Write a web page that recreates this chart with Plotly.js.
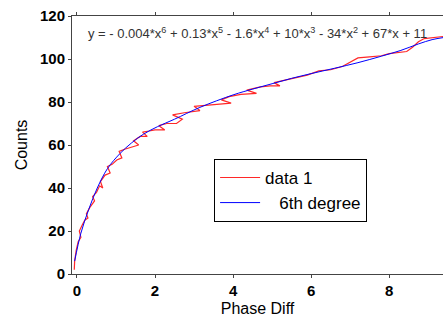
<!DOCTYPE html>
<html>
<head>
<meta charset="utf-8">
<script src="https://cdn.plot.ly/plotly-3.0.1.min.js"></script>
<style>html,body{margin:0;padding:0;background:#fff;}#chart{width:443px;height:325px;}</style>
</head>
<body>
<div id="chart"></div>
<script>
const dataX = [-0.07,-0.06,-0.02,0.03,0.1,0.06,0.14,0.2,0.28,0.24,0.33,0.45,0.4,0.5,0.58,0.66,0.6,0.72,0.85,0.78,0.9,1.02,1.15,1.08,1.22,1.38,1.58,1.45,1.62,1.8,1.68,1.85,2.0,2.25,2.1,2.3,2.55,2.7,2.45,2.75,2.95,3.15,3.0,3.3,3.6,3.95,3.7,3.9,4.2,4.45,4.6,4.35,4.7,4.95,5.2,5.05,5.3,5.6,5.9,6.2,6.5,6.8,7.0,7.2,7.5,7.8,8.0,8.25,8.45,8.6,8.75,8.9,9.1,9.3,9.4];
const dataY = [2,6,11,15,17,20,23,25,26,28,31,34,36,38,41,40,43,46,47,50,51,53,54,57,58,59,60,62,64,64,66,66.5,67,67,69,70,70,72,74,75,75.5,76,78,78.5,79,79.5,81,82.5,83.5,84,84,85.5,87,87.5,87.5,89,90,91,92.5,94.5,95,96.5,98.5,100.5,101,101.5,102.5,103,103.5,105.5,108,109.5,110,110.5,110.5];
// 6th degree fit curve
const fitX = [-0.06,0.1,0.3,0.52,0.78,1.1,1.4,1.7,2.06,2.5,3.15,4.0,4.5,5.0,5.5,6.0,6.6,7.2,7.8,8.3,8.75,9.1,9.4];
const fitY = [6,19,30,40,49,56,61,65,68.5,72,77.5,83.3,86,88.5,91,93.2,95.7,98.3,101.3,104,107,109,110];
const xTicks = [0,2,4,6,8];
const yTicks = [0,20,40,60,80,100,120];
const seriesNames = ['data 1', '\u00a0\u00a0\u00a06th degree'];
const equation = 'y = - 0.004*x<sup>6</sup> + 0.13*x<sup>5</sup> - 1.6*x<sup>4</sup> + 10*x<sup>3</sup> - 34*x<sup>2</sup> + 67*x + 11';

const font = 'Arial, "Liberation Sans", sans-serif';
const traces = [
  {x: dataX, y: dataY, mode: 'lines', name: seriesNames[0], line: {color: 'rgb(255,40,40)', width: 1.2}},
  {x: fitX, y: fitY, mode: 'lines', name: seriesNames[1], line: {color: 'rgb(0,0,255)', width: 1, shape: 'spline'}}
];
const axisCommon = {showgrid: false, zeroline: false, showline: true, linecolor: '#444', linewidth: 1,
  ticks: 'outside', ticklen: 3, tickcolor: '#444', tickfont: {family: font, size: 15, color: '#000', weight: 'bold'}};
const layout = {
  width: 443, height: 325,
  margin: {l: 72, r: 0, t: 16, b: 51},
  paper_bgcolor: '#fff', plot_bgcolor: '#fff',
  showlegend: true,
  legend: {x: 0.383, y: 0.446, xanchor: 'left', yanchor: 'top', bgcolor: '#fff', bordercolor: '#000', borderwidth: 1,
    itemwidth: 40, font: {family: font, size: 17, color: '#000'}},
  xaxis: Object.assign({}, axisCommon, {range: [-0.128, 9.38], tickvals: xTicks, mirror: 'ticks',
    title: {text: 'Phase Diff', font: {family: font, size: 16, color: '#000'}, standoff: 4}}),
  yaxis: Object.assign({}, axisCommon, {range: [0, 120], tickvals: yTicks, mirror: false,
    title: {text: 'Counts', font: {family: font, size: 16, color: '#000'}, standoff: 8}}),
  annotations: [{xref: 'paper', yref: 'paper', x: 0.038, y: 0.935, xanchor: 'left', yanchor: 'middle', showarrow: false,
    text: equation, font: {family: font, size: 13, color: '#333'}}]
};
Plotly.newPlot('chart', traces, layout, {displayModeBar: false, staticPlot: true});
</script>
</body>
</html>
